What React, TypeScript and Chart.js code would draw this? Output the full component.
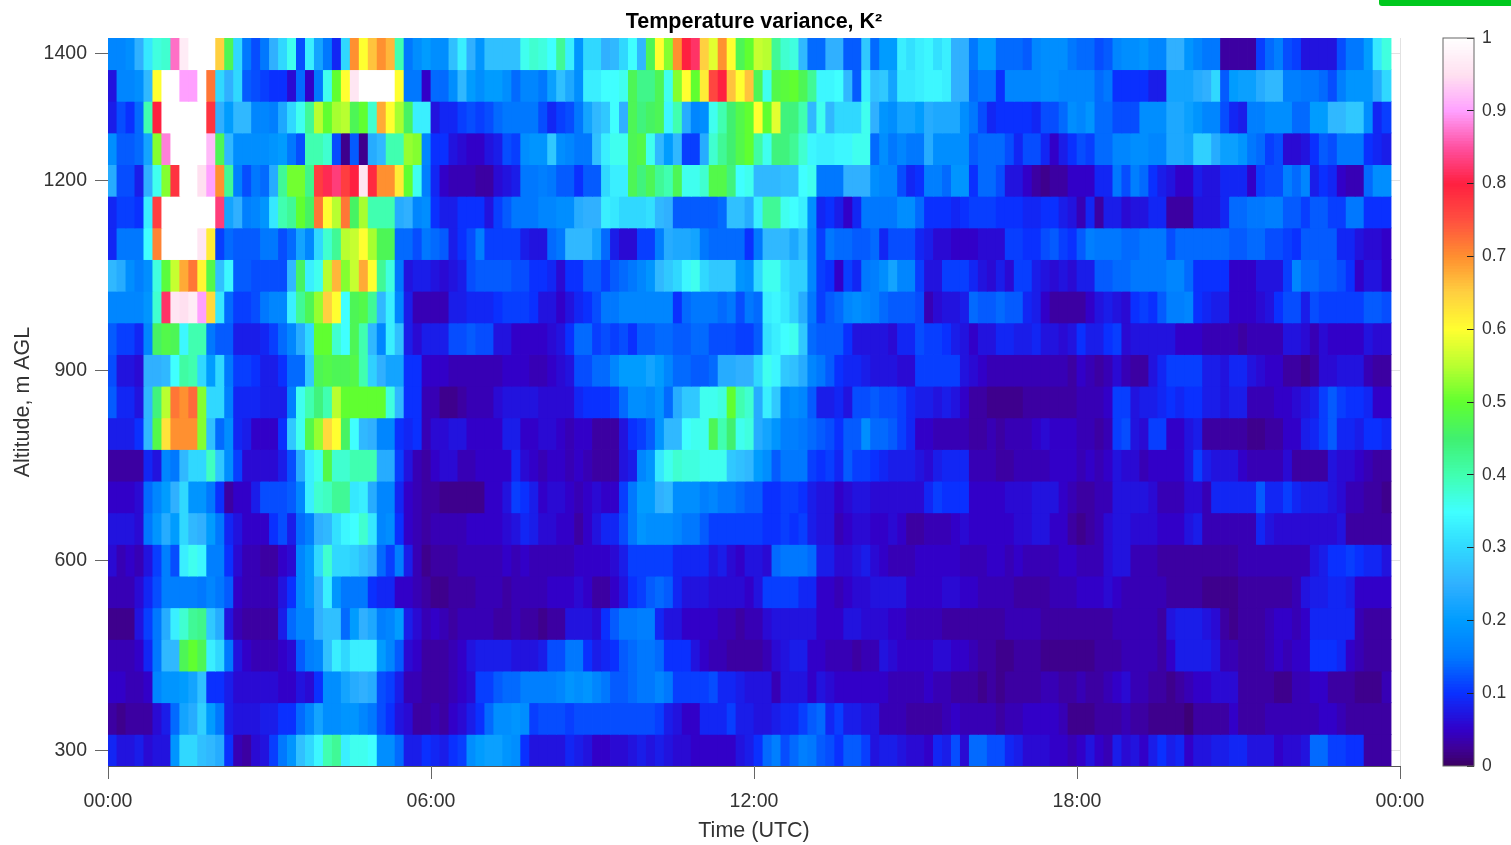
import React, { useEffect, useRef } from "react";
import { Chart, registerables } from "chart.js";

Chart.register(...registerables);

const chartTitle = "Temperature variance, K²";
const xTitle = "Time (UTC)";
const yTitle = "Altitude, m AGL";
const xTickSlots = [0, 36, 72, 108, 144];
const xTickLabels = ["00:00", "06:00", "12:00", "18:00", "00:00"];
const yTicks = [300, 600, 900, 1200, 1400];
const barTicks = [0, 0.1, 0.2, 0.3, 0.4, 0.5, 0.6, 0.7, 0.8, 0.9, 1];
const altitudes = [1400, 1350, 1300, 1250, 1200, 1150, 1100, 1050, 1000, 950, 900, 850, 800, 750, 700, 650, 600, 550, 500, 450, 400, 350, 300];

// Temperature variance x 100, one array per altitude, one value per 10 minutes
const v1400 = [17,17,18,25,32,37,38,87,97,100,100,100,65,47,30,15,12,15,25,30,36,12,33,22,15,9,30,70,60,66,70,67,40,15,18,20,
  18,18,27,33,25,19,27,27,27,27,36,38,37,35,42,33,19,30,30,25,26,30,35,26,47,60,52,70,80,82,65,58,70,60,47,50,
  56,55,42,38,37,26,14,14,25,25,13,13,28,14,20,20,33,31,33,34,31,33,25,25,15,20,20,14,14,14,13,17,18,18,18,15,
  14,14,12,13,17,18,18,19,17,17,25,25,19,17,15,15,3,3,3,3,11,14,16,12,11,7,7,7,7,12,15,15,20,32,37];
const v1350 = [7,17,17,18,26,60,100,100,90,90,100,72,30,25,30,13,12,11,10,10,6,14,5,15,36,50,60,96,100,100,100,100,60,15,15,5,
  14,14,18,26,20,18,20,20,18,14,17,17,15,21,27,23,18,33,33,35,35,36,47,43,43,47,36,52,60,50,62,76,80,66,60,66,
  47,36,48,49,50,47,42,34,34,35,26,13,33,27,28,22,32,32,33,34,34,33,25,25,14,15,15,10,17,17,17,17,18,18,17,17,
  17,17,14,15,10,10,10,10,8,8,22,22,22,24,25,30,13,20,21,21,24,26,26,16,16,15,15,14,12,16,19,19,19,24,30];
const v1300 = [8,12,10,14,40,80,100,100,100,100,100,78,25,20,26,26,17,17,16,23,30,36,42,55,50,54,55,47,50,38,68,60,54,46,33,33,
  7,9,9,11,12,11,12,14,15,15,15,15,12,9,11,12,15,22,26,28,35,25,47,44,46,47,34,40,24,17,18,36,40,45,48,50,
  60,50,58,44,44,40,26,36,26,30,30,30,36,25,19,18,22,22,20,24,23,23,23,18,15,12,9,10,10,10,10,9,12,12,14,18,
  17,19,14,14,12,12,12,18,18,18,23,23,21,19,17,17,12,9,8,16,16,18,18,18,14,14,20,20,26,26,28,28,18,9,11];
const v1250 = [18,13,13,14,22,52,88,100,100,100,100,92,47,26,18,18,18,18,19,20,15,12,40,40,38,12,2,13,2,24,26,40,40,53,52,17,
  10,10,7,6,5,5,7,8,12,11,18,19,19,28,18,17,15,15,27,33,36,36,47,48,36,26,20,26,11,11,24,38,42,45,48,50,
  41,36,44,44,42,38,34,33,33,34,34,36,36,14,18,15,17,15,15,24,18,18,18,18,13,14,14,14,12,9,12,12,9,5,8,10,
  12,11,14,14,17,17,18,18,17,17,23,23,22,29,29,24,21,21,19,15,14,11,12,6,6,7,10,13,12,15,15,15,10,9,8];
const v1200 = [24,12,12,8,25,36,52,78,100,100,95,90,70,42,16,12,15,14,24,42,51,51,43,77,81,83,77,80,96,79,70,70,62,50,36,16,
  9,5,4,4,4,3,3,6,7,8,15,15,16,15,13,13,10,13,13,30,33,33,47,44,47,42,40,47,36,36,38,48,48,44,35,36,
  26,26,26,27,27,35,36,15,15,15,25,25,25,18,17,17,12,9,10,16,16,14,19,19,10,14,14,12,7,7,5,3,2,3,3,5,
  5,5,9,9,15,12,16,14,10,8,7,5,5,8,7,7,9,9,9,5,11,12,12,16,14,17,8,10,9,5,4,4,14,18,18];
const v1150 = [9,11,11,10,33,77,100,100,100,100,100,100,83,22,25,16,17,19,32,40,42,50,46,72,60,55,72,46,54,40,40,40,24,25,17,18,
  10,8,8,10,10,10,7,11,13,15,15,15,17,17,18,18,24,25,25,33,32,30,30,30,31,26,25,13,13,13,13,13,14,27,27,24,
  33,42,42,36,35,33,18,9,10,8,5,9,15,15,15,15,18,18,14,10,10,10,9,10,11,11,11,10,10,10,9,9,10,10,8,7,
  4,9,3,8,8,6,7,7,9,9,3,3,3,7,7,7,9,14,14,15,15,16,16,13,13,11,13,13,11,11,15,15,10,10,10];
const v1100 = [9,15,15,15,35,71,100,100,100,100,96,62,11,14,13,13,13,15,15,12,14,22,17,30,38,42,55,56,60,54,47,47,14,14,12,15,
  14,13,8,10,12,16,11,11,11,11,8,7,7,14,15,26,26,26,22,14,8,6,6,11,11,16,24,23,23,22,15,14,14,14,14,10,
  15,26,26,26,23,27,17,11,15,14,14,13,13,14,9,12,12,12,9,8,6,6,5,5,5,6,6,6,11,11,10,10,12,13,11,10,
  13,16,15,15,15,14,14,15,15,15,12,14,14,14,14,14,14,13,13,14,14,12,12,11,10,13,13,13,13,9,9,7,6,6,5];
const v1050 = [26,24,18,16,18,37,49,56,68,72,61,48,27,34,13,13,12,12,12,12,26,46,33,36,55,67,52,56,68,60,42,37,15,7,8,8,
  7,6,7,8,12,13,13,13,13,12,12,10,10,9,6,10,10,13,13,11,13,14,15,17,19,26,28,30,34,36,30,28,28,28,19,18,
  30,36,36,31,29,29,17,11,10,5,11,9,15,16,18,22,17,17,11,7,7,11,11,11,9,7,6,8,6,11,11,8,7,6,7,6,
  8,8,13,13,14,14,15,15,15,15,17,17,14,10,10,10,10,5,5,5,7,7,7,11,17,14,14,13,13,12,10,5,7,7,5];
const v1000 = [17,17,17,17,19,38,82,96,95,97,90,64,32,14,11,11,12,15,17,17,33,42,47,53,65,60,35,47,48,42,26,33,17,8,4,4,
  4,4,8,8,9,9,9,10,11,11,11,10,7,7,5,7,9,10,12,15,15,17,17,17,17,17,17,10,14,15,15,15,14,15,12,15,
  14,33,34,32,29,24,15,11,13,14,17,18,17,16,14,13,13,13,12,4,6,7,7,8,14,13,13,14,13,13,9,8,5,3,3,3,
  3,5,7,8,7,6,10,11,10,13,16,16,17,10,9,8,8,5,5,5,6,7,10,12,12,8,12,11,11,11,11,11,13,13,12];
const v950 = [13,11,11,9,17,46,48,47,34,40,40,15,13,13,8,8,8,9,11,14,17,24,30,50,50,38,35,47,40,26,17,33,27,8,6,8,
  8,8,12,12,13,12,12,7,7,5,5,5,5,6,7,10,14,14,11,12,11,12,10,13,13,14,14,13,13,14,14,12,12,12,11,11,
  13,31,33,35,36,28,14,13,13,13,10,7,7,7,7,6,9,9,12,11,11,10,8,7,5,7,7,9,9,8,8,9,7,7,6,7,
  10,8,8,10,11,6,7,7,7,7,7,5,5,5,4,4,4,4,3,4,4,4,4,7,7,6,4,6,5,5,5,5,7,6,6];
const v900 = [12,7,7,6,25,25,26,35,41,40,30,20,30,15,11,11,10,8,8,10,14,14,28,47,48,47,47,48,40,29,25,22,22,10,10,5,
  5,5,4,4,4,4,4,4,5,5,5,4,4,5,6,7,12,12,14,14,17,20,20,20,22,20,17,14,14,13,13,14,24,24,25,25,
  30,36,34,28,27,24,17,15,13,10,9,9,8,7,7,7,6,6,11,11,11,11,11,7,6,5,4,4,4,4,4,4,4,4,4,3,
  5,4,3,4,6,4,3,3,7,9,11,11,11,11,8,8,7,9,9,7,6,5,5,3,3,2,3,6,6,7,7,7,4,3,3];
const v850 = [13,9,9,7,26,44,55,72,70,73,52,30,30,16,9,9,9,8,8,8,16,36,40,44,40,55,50,50,50,50,50,37,26,10,10,4,
  4,2,2,3,4,4,4,6,7,7,7,7,6,6,6,6,9,10,10,10,11,14,18,18,17,19,14,24,28,28,36,36,37,50,40,38,
  24,33,28,17,18,17,13,8,8,9,7,12,12,13,12,12,11,9,8,8,7,8,7,5,3,3,2,2,2,2,3,3,3,3,3,3,
  4,4,4,5,11,11,7,8,8,9,10,9,10,10,8,8,7,8,8,4,4,4,5,5,6,7,8,11,13,11,10,10,9,5,5];
const v800 = [8,8,8,10,26,48,63,70,70,70,52,27,14,18,9,8,5,5,5,10,28,36,48,53,64,60,46,35,26,25,17,17,10,9,10,4,
  6,6,7,7,5,5,5,5,8,8,5,5,6,6,5,4,5,5,3,3,3,7,10,11,13,19,26,26,35,36,36,47,40,45,36,37,
  24,22,19,16,16,15,14,13,12,10,13,13,18,14,14,13,11,9,5,5,4,4,4,4,3,3,4,3,4,4,4,5,6,5,5,5,
  4,4,3,4,11,12,7,6,11,11,5,5,7,8,3,3,3,3,3,2,2,3,3,5,5,8,9,11,13,9,9,8,10,10,9];
const v750 = [3,3,3,3,9,7,17,15,26,30,30,39,28,18,11,6,6,6,6,8,12,24,33,36,48,38,38,40,40,40,24,24,11,7,4,3,
  5,6,6,4,4,5,5,5,5,9,6,5,4,5,5,4,5,4,3,3,3,7,8,17,19,32,36,38,37,37,36,36,36,28,27,26,
  20,18,13,15,15,15,11,10,11,9,13,11,11,10,9,8,8,8,7,6,8,9,9,9,4,4,4,3,3,4,4,4,4,5,5,5,
  4,5,4,5,7,6,6,4,5,5,5,5,7,11,8,7,7,7,5,4,4,4,4,6,3,3,3,3,7,6,6,5,4,3,3];
const v700 = [5,5,5,6,14,17,20,25,30,19,19,15,10,3,5,5,8,12,12,12,13,17,33,38,39,42,42,32,33,24,17,17,9,5,4,3,
  3,2,2,2,2,2,5,5,7,11,10,8,5,6,6,5,4,5,6,5,5,11,15,20,20,25,26,18,18,18,16,17,15,15,14,13,
  13,10,10,11,11,10,8,7,7,5,6,7,7,6,6,6,6,6,6,9,11,10,10,10,5,5,5,5,6,6,6,7,7,7,5,4,
  3,3,4,4,7,7,7,7,6,4,4,4,6,6,4,9,9,9,9,9,13,9,9,11,9,8,8,8,7,6,4,4,3,3,2];
const v650 = [7,7,7,6,15,19,24,20,30,26,25,20,15,9,7,5,5,5,10,12,8,14,16,25,26,31,34,35,38,32,17,18,10,5,4,3,
  4,4,4,4,5,5,5,5,6,7,9,8,6,6,5,5,3,5,7,9,9,12,15,19,18,18,18,17,15,15,13,11,11,11,11,11,
  11,10,10,11,10,11,8,7,7,4,5,6,6,5,5,6,5,3,3,4,4,4,5,6,5,5,5,5,5,6,6,7,7,5,5,3,
  2,3,4,6,7,7,6,6,6,5,5,5,7,8,4,4,4,4,4,4,9,7,6,6,6,6,6,6,6,7,3,3,3,3,3];
const v600 = [6,4,5,4,7,11,16,12,33,36,34,16,16,10,6,4,4,3,3,5,6,17,20,30,38,30,30,29,27,25,14,11,16,8,4,2,
  3,3,3,4,4,4,4,4,5,4,5,4,4,4,4,4,5,5,5,5,6,8,11,11,11,11,11,9,9,9,9,7,8,6,5,7,
  7,6,14,15,15,15,14,8,8,6,6,7,8,6,5,4,4,4,5,5,5,5,5,4,4,4,5,5,4,5,4,4,4,4,5,5,
  4,4,4,6,7,7,4,4,4,3,3,3,3,3,3,3,3,3,4,4,4,4,4,4,4,4,7,8,10,10,11,10,9,9,7];
const v550 = [4,4,4,6,9,12,16,16,16,16,15,17,15,13,5,4,4,4,4,7,10,17,20,25,33,19,15,15,15,10,9,9,5,5,4,3,
  2,2,3,3,3,4,4,4,3,4,4,4,4,5,5,5,6,5,3,3,5,7,10,11,13,14,13,9,7,7,7,6,6,6,6,5,
  7,11,11,11,11,9,9,5,5,4,5,6,6,7,7,7,7,5,5,5,5,6,6,5,5,4,4,4,4,3,3,3,3,4,4,4,
  5,5,5,6,5,4,4,4,4,4,3,3,3,3,2,2,2,2,3,3,3,3,3,3,4,7,8,8,9,9,8,5,5,5,5];
const v500 = [2,2,2,7,11,15,24,33,38,42,43,28,24,7,4,3,3,3,3,8,14,17,17,25,27,27,14,20,25,23,16,17,20,8,6,4,
  5,4,3,4,4,4,4,3,3,4,3,3,2,3,3,7,7,7,6,10,13,15,15,16,16,9,7,7,5,5,5,5,4,4,3,4,
  4,6,7,7,7,7,7,5,5,5,7,7,6,6,6,5,5,4,4,4,4,3,3,3,3,3,3,3,4,4,4,4,3,3,3,3,
  3,3,3,3,4,4,4,4,4,3,7,8,8,8,7,6,3,2,3,3,3,4,5,5,4,5,9,9,9,9,9,4,3,3,3];
const v450 = [4,4,4,5,9,15,26,26,47,50,47,33,30,15,7,5,4,4,4,5,6,13,16,17,27,33,30,33,33,33,20,17,13,6,5,3,
  3,3,4,5,7,8,8,8,8,7,7,7,8,12,12,15,15,10,8,9,10,13,14,15,15,14,10,10,10,7,5,4,4,3,3,3,
  3,4,6,7,8,8,5,5,4,4,4,3,4,4,7,6,5,5,5,5,6,6,5,5,4,3,3,2,2,3,3,3,2,2,2,2,
  2,2,3,3,3,4,4,4,4,3,5,8,8,8,8,7,4,4,3,3,3,4,5,4,5,5,10,10,10,9,5,4,3,3,3];
const v400 = [5,5,4,4,5,17,19,19,20,22,27,10,10,8,6,6,6,6,6,5,5,7,6,10,18,18,22,24,25,24,12,11,8,4,4,3,
  3,3,4,5,6,11,11,13,14,14,16,16,16,16,17,19,18,19,17,15,13,13,14,15,15,17,15,11,11,11,11,12,9,9,8,7,
  7,7,4,7,7,7,5,7,6,5,5,5,5,5,5,4,4,4,4,5,4,4,3,3,3,2,3,2,3,3,3,3,4,4,3,3,
  4,3,3,4,5,6,4,4,3,3,2,3,4,5,5,6,6,6,3,3,3,3,2,2,4,4,5,5,3,3,3,2,2,2,4];
const v350 = [3,2,3,3,3,6,8,14,22,24,29,20,15,8,7,7,7,8,8,10,10,14,17,22,18,18,19,19,17,15,12,10,7,6,3,3,
  4,3,5,6,8,10,14,18,18,19,18,11,12,12,12,11,12,12,12,12,12,12,12,12,12,11,8,7,5,5,9,9,9,11,8,8,
  7,7,8,9,9,11,13,14,9,11,8,8,7,7,4,4,4,3,3,3,3,4,5,4,4,4,4,3,4,4,5,5,5,5,4,2,
  2,2,3,3,3,4,3,3,2,2,2,2,1,3,3,3,3,5,3,3,3,4,4,4,4,4,4,5,5,4,3,3,3,3,3];
const v300 = [9,7,7,8,6,7,7,19,30,30,27,26,24,10,4,3,6,7,11,15,19,27,30,34,40,42,33,36,36,35,18,18,14,8,8,10,
  9,8,10,11,18,20,21,21,19,18,10,7,7,7,7,9,8,7,5,5,6,6,7,8,7,8,7,6,6,5,5,5,5,5,7,8,
  10,14,16,12,14,16,15,13,12,10,13,13,11,7,8,8,7,6,6,5,9,8,12,6,14,14,12,12,9,8,6,6,6,5,5,4,
  5,7,5,4,8,6,7,5,8,10,8,9,5,7,7,8,8,9,9,7,7,7,5,6,6,7,14,14,11,11,10,10,3,3,3];

const rows = [v1400, v1350, v1300, v1250, v1200, v1150, v1100, v1050, v1000, v950, v900, v850, v800, v750, v700, v650, v600, v550, v500, v450, v400, v350, v300];

// Colormap
const mapStops = [0, 0.025, 0.05, 0.1, 0.15, 0.2, 0.25, 0.3, 0.35, 0.4, 0.45, 0.5, 0.55, 0.6, 0.65, 0.7, 0.75, 0.8, 0.85, 0.9, 0.95, 1];
const mapColors = [
  [60, 0, 96], [62, 0, 152], [50, 0, 200], [10, 48, 255], [0, 120, 255], [0, 156, 255], [48, 176, 255], [48, 216, 255],
  [64, 255, 255], [64, 255, 176], [64, 240, 112], [96, 255, 48], [184, 255, 48], [255, 255, 48], [255, 208, 64],
  [255, 144, 48], [255, 80, 64], [255, 32, 64], [255, 80, 160], [255, 160, 255], [255, 224, 240], [255, 255, 255],
];

function colorFor(value: number): string {
  const v = Math.max(0, Math.min(1, value));
  let i = 0;
  while (i < mapStops.length - 2 && v > mapStops[i + 1]) i++;
  const t = (v - mapStops[i]) / (mapStops[i + 1] - mapStops[i]);
  const c = mapColors[i].map((a, n) => Math.round(a + (mapColors[i + 1][n] - a) * t));
  return `rgb(${c[0]},${c[1]},${c[2]})`;
}

const textColor = "#333333";
const fontFamily = '"Liberation Sans", Arial, sans-serif';
const halfRow = 25;
const barLevels = 256;

const frameBar = {
  id: "frameBar",
  afterDraw(chart: any) {
    const { left, top, width, height } = chart.chartArea;
    const ctx = chart.ctx;
    ctx.save();
    ctx.strokeStyle = "#666666";
    ctx.lineWidth = 1;
    ctx.strokeRect(left, top, width, height);
    ctx.restore();
  },
};

export default function App() {
  const mainRef = useRef<HTMLCanvasElement>(null);
  const barRef = useRef<HTMLCanvasElement>(null);

  useEffect(() => {
    const datasets = rows.map((row, r) => ({
      label: `${altitudes[r]} m`,
      data: row.map((v, k) => ({ x: k + 0.5, y: [altitudes[r] - halfRow, altitudes[r] + halfRow] })),
      backgroundColor: row.map((v) => colorFor(v / 100)),
      borderWidth: 0,
      grouped: false,
      barPercentage: 1,
      categoryPercentage: 1,
      inflateAmount: 0.4,
    }));

    const main = new Chart(mainRef.current as HTMLCanvasElement, {
      type: "bar",
      data: { datasets: datasets as any },
      options: {
        animation: false,
        responsive: false,
        devicePixelRatio: 1,
        layout: { padding: { left: 0, right: 108, top: 0, bottom: 0 } },
        plugins: {
          legend: { display: false },
          tooltip: { enabled: false },
          title: {
            display: true,
            fullSize: false,
            text: chartTitle,
            color: "#000000",
            font: { family: fontFamily, size: 21.5, weight: "bold", lineHeight: 1.2 },
            padding: { top: 9.6, bottom: 2.6 },
          },
        },
        scales: {
          x: {
            type: "linear",
            min: 0,
            max: 144,
            offset: false,
            afterFit: (s: any) => { s.height = 79; },
            afterBuildTicks: (s: any) => { s.ticks = xTickSlots.map((value) => ({ value })); },
            grid: { offset: false, color: "#e2e2e2", tickColor: "#666666", tickLength: 13, drawOnChartArea: true },
            border: { display: true, color: "#555555" },
            ticks: {
              autoSkip: false,
              maxRotation: 0,
              color: textColor,
              padding: 11,
              font: { family: fontFamily, size: 19.5 },
              callback: (v: any) => xTickLabels[xTickSlots.indexOf(Number(v))],
            },
            title: { display: true, text: xTitle, color: textColor, font: { family: fontFamily, size: 21.5, lineHeight: 1.2 }, padding: { top: 0, bottom: 1 } },
          },
          y: {
            type: "linear",
            min: 275,
            max: 1425,
            afterFit: (s: any) => { s.width = 108; },
            afterBuildTicks: (s: any) => { s.ticks = yTicks.map((value) => ({ value })); },
            grid: { color: "#e2e2e2", tickColor: "#666666", tickLength: 13, drawOnChartArea: true },
            border: { display: true, color: "#555555" },
            ticks: { color: textColor, padding: 8, font: { family: fontFamily, size: 19.5 }, callback: (v: any) => String(v) },
            title: { display: true, text: yTitle, color: textColor, font: { family: fontFamily, size: 21.5, lineHeight: 1.2 }, padding: { top: 10, bottom: 0 } },
          },
        },
      },
    } as any);

    const levels = Array.from({ length: barLevels }, (_, i) => (i + 0.5) / barLevels);
    const bar = new Chart(barRef.current as HTMLCanvasElement, {
      type: "bar",
      data: {
        datasets: [{
          label: "Temperature variance",
          data: levels.map((y) => ({ x: 1, y })),
          backgroundColor: levels.map((y) => colorFor(y)),
          borderWidth: 0,
          barPercentage: 1,
          categoryPercentage: 1,
          inflateAmount: 0.5,
        }],
      },
      options: {
        indexAxis: "y",
        animation: false,
        responsive: false,
        devicePixelRatio: 1,
        layout: { padding: { left: 43, right: 0, top: 38, bottom: 79 } },
        plugins: { legend: { display: false }, tooltip: { enabled: false } },
        scales: {
          x: { type: "linear", display: false, min: 0, max: 1, offset: false },
          y: {
            type: "linear",
            position: "right",
            min: 0,
            max: 1,
            offset: false,
            afterFit: (s: any) => { s.width = 37; },
            afterBuildTicks: (s: any) => { s.ticks = barTicks.map((value) => ({ value })); },
            grid: { offset: false, drawOnChartArea: false, tickLength: -7, tickColor: "#222222", z: 1 },
            border: { display: false },
            ticks: { color: textColor, padding: 15, font: { family: fontFamily, size: 17.5 }, callback: (v: any) => String(v) },
          },
        },
      },
      plugins: [frameBar],
    } as any);

    return () => {
      main.destroy();
      bar.destroy();
    };
  }, []);

  return (
    <div style={{ position: "fixed", left: 0, top: 0, width: 1511, height: 845, background: "#ffffff", overflow: "hidden" }}>
      <canvas ref={mainRef} width={1508} height={845} style={{ position: "absolute", left: 0, top: 0, display: "block" }} />
      <canvas ref={barRef} width={111} height={845} style={{ position: "absolute", left: 1400, top: 0, display: "block" }} />
      <div style={{ position: "absolute", left: 1379, top: 0, width: 132, height: 5.5, background: "#00c81e", borderBottomLeftRadius: 3 }} />
    </div>
  );
}
